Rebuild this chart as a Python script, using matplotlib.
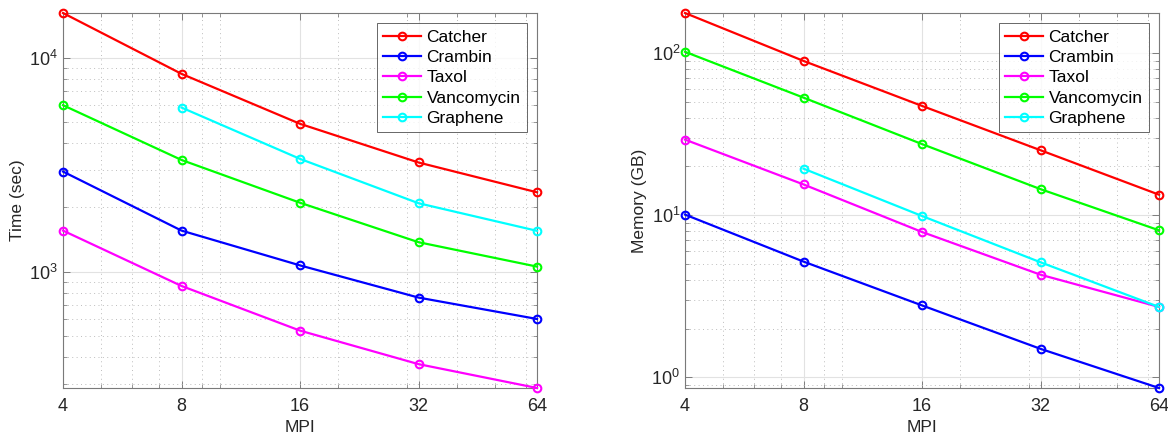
import matplotlib
matplotlib.use('Agg')
import matplotlib.pyplot as plt
from matplotlib.ticker import FixedLocator, NullFormatter, LogFormatterSciNotation

plt.rcParams['font.family'] = ['Liberation Sans', 'DejaVu Sans']
plt.rcParams['mathtext.fontset'] = 'custom'
plt.rcParams['mathtext.rm'] = 'Liberation Sans'

mpi = [4, 8, 16, 32, 64]
mpi_graphene = [8, 16, 32, 64]

# time (sec)
time_catcher = [16200, 8420, 4920, 3245, 2355]
time_crambin = [2944, 1560, 1073, 759, 603]
time_taxol = [1560, 860, 532, 371, 287]
time_vancomycin = [6010, 3335, 2105, 1377, 1059]
time_graphene = [5860, 3374, 2094, 1556]

# memory (GB)
mem_catcher = [177, 89.6, 47.3, 25.2, 13.4]
mem_crambin = [10.1, 5.18, 2.78, 1.50, 0.86]
mem_taxol = [29.3, 15.5, 7.89, 4.30, 2.72]
mem_vancomycin = [102, 53.2, 27.5, 14.5, 8.08]
mem_graphene = [19.4, 9.9, 5.13, 2.72]

names = ['Catcher', 'Crambin', 'Taxol', 'Vancomycin', 'Graphene']
colors = ['#ff0000', '#0000ff', '#ff00ff', '#00ff00', '#00ffff']

fig = plt.figure(figsize=(11.68, 4.34), dpi=100)
W, H = 1168, 434
ax1 = fig.add_axes([63 / W, 1 - 388 / H, 474 / W, 375 / H])
ax2 = fig.add_axes([685 / W, 1 - 388 / H, 474 / W, 375 / H])


def draw(ax, series, ylabel):
    for name, col, (xs, ys) in zip(names, colors, series):
        ax.plot(xs, ys, '-o', color=col, lw=1.6, ms=5.5, mfc='none',
                mew=1.5, label=name, clip_on=False, zorder=3)
    ax.set_xscale('log')
    ax.set_yscale('log')
    allx = [v for xs, ys in series for v in xs]
    ally = [v for xs, ys in series for v in ys]
    ax.set_xlim(min(allx), max(allx))
    ax.set_ylim(min(ally), max(ally))
    ax.xaxis.set_major_locator(FixedLocator(mpi))
    ax.xaxis.set_major_formatter(plt.FixedFormatter([str(v) for v in mpi]))
    ax.xaxis.set_minor_locator(FixedLocator([5, 6, 7, 9, 10, 20, 30, 40, 50, 60]))
    ax.xaxis.set_minor_formatter(NullFormatter())
    ax.yaxis.set_major_formatter(LogFormatterSciNotation())
    ax.yaxis.set_minor_formatter(NullFormatter())
    ax.grid(True, which='major', color='#e2e2e2', lw=0.8, ls='-')
    ax.grid(True, which='minor', color='#bdbdbd', lw=0.7, ls=(0, (1, 3.5)))
    ax.set_axisbelow(True)
    ax.tick_params(which='both', direction='in', top=True, right=True,
                   colors='#6e6e6e', labelcolor='#262626', labelsize=13)
    ax.tick_params(which='major', length=5, width=0.6)
    ax.tick_params(which='minor', length=3, width=0.5)
    ax.tick_params(axis='x', which='major', pad=7)
    for s in ax.spines.values():
        s.set_color('#7a7a7a')
        s.set_linewidth(0.8)
    ax.set_xlabel('MPI', fontsize=12.5, color='#262626', labelpad=4)
    ax.set_ylabel(ylabel, fontsize=12.5, color='#262626', labelpad=3)
    leg = ax.legend(loc='upper right', fontsize=12.5, frameon=True, fancybox=False,
                    handlelength=2.2, handletextpad=0.3, borderpad=0.35,
                    labelspacing=0.3, borderaxespad=0.6)
    leg.get_frame().set_edgecolor('#222222')
    leg.get_frame().set_linewidth(0.6)


draw(ax1, [(mpi, time_catcher), (mpi, time_crambin), (mpi, time_taxol),
           (mpi, time_vancomycin), (mpi_graphene, time_graphene)], 'Time (sec)')
draw(ax2, [(mpi, mem_catcher), (mpi, mem_crambin), (mpi, mem_taxol),
           (mpi, mem_vancomycin), (mpi_graphene, mem_graphene)], 'Memory (GB)')

fig.savefig('out.png', dpi=100)
